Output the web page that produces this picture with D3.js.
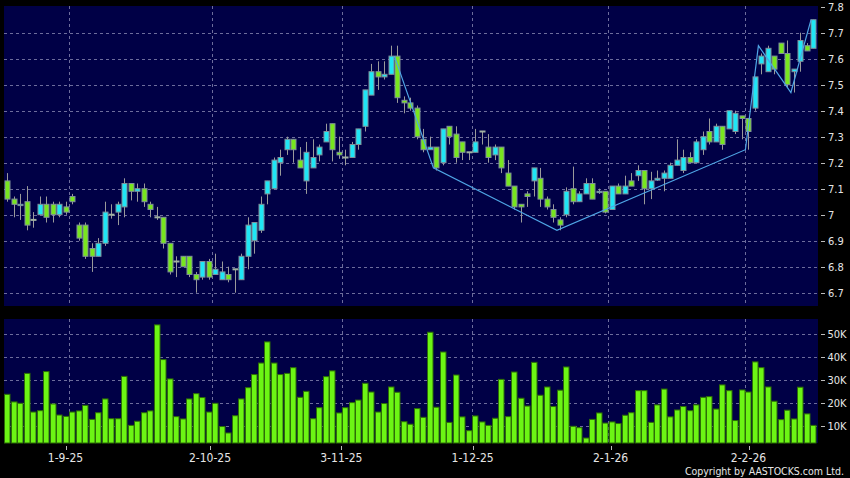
<!DOCTYPE html>
<html><head><meta charset="utf-8">
<script src="https://cdn.jsdelivr.net/npm/d3@7"></script>
<style>html,body{margin:0;padding:0;background:#000;}svg{display:block;}</style>
</head><body>
<svg id="chart" width="850" height="478"></svg>
<script>
// ---- data (trading-day index 0..124, 18 Aug 2025 .. 16 Feb 2026) ----
const open  = [7.13,7.06,7.035,7.05,6.98,7.00,7.04,7.04,7.00,7.03,7.07,6.96,6.96,6.87,6.84,6.89,7.00,7.01,7.03,7.12,7.09,7.10,7.04,6.99,6.99,6.89,6.82,6.84,6.84,6.77,6.76,6.82,6.77,6.75,6.77,6.79,6.75,6.84,6.90,6.94,7.08,7.10,7.20,7.25,7.29,7.21,7.13,7.18,7.23,7.28,7.35,7.24,7.22,7.22,7.27,7.34,7.46,7.55,7.53,7.54,7.61,7.44,7.43,7.41,7.29,7.25,7.26,7.20,7.34,7.31,7.28,7.24,7.24,7.32,7.26,7.23,7.26,7.16,7.11,7.04,7.08,7.13,7.14,7.06,7.02,6.98,7.00,7.10,7.05,7.08,7.12,7.085,7.09,7.02,7.11,7.08,7.13,7.15,7.17,7.10,7.133,7.14,7.14,7.19,7.17,7.22,7.20,7.25,7.32,7.28,7.34,7.33,7.32,7.38,7.37,7.41,7.58,7.55,7.61,7.66,7.62,7.55,7.59,7.65,7.64];
const high  = [7.16,7.07,7.08,7.11,7.01,7.07,7.07,7.05,7.05,7.05,7.08,6.97,6.97,6.89,6.91,7.05,7.04,7.05,7.14,7.12,7.12,7.12,7.05,7.03,6.99,6.89,6.84,6.84,6.84,6.78,6.82,6.83,6.85,6.82,6.80,6.79,6.85,6.99,6.97,7.07,7.13,7.22,7.25,7.30,7.29,7.26,7.28,7.29,7.27,7.35,7.35,7.30,7.25,7.28,7.33,7.48,7.58,7.59,7.59,7.65,7.65,7.455,7.45,7.42,7.33,7.30,7.26,7.33,7.34,7.34,7.28,7.24,7.33,7.32,7.31,7.27,7.26,7.21,7.11,7.04,7.09,7.18,7.18,7.07,7.04,6.99,7.105,7.185,7.09,7.14,7.14,7.10,7.09,7.11,7.12,7.15,7.16,7.19,7.17,7.165,7.17,7.17,7.20,7.29,7.25,7.24,7.29,7.32,7.37,7.35,7.34,7.40,7.40,7.38,7.37,7.53,7.62,7.65,7.61,7.66,7.67,7.56,7.70,7.66,7.75];
const low   = [7.05,6.99,6.98,6.94,6.95,7.00,6.97,6.97,6.99,7.00,7.04,6.90,6.83,6.78,6.84,6.88,6.985,6.96,6.99,7.055,7.05,7.03,6.99,6.98,6.87,6.77,6.76,6.80,6.76,6.70,6.75,6.75,6.77,6.75,6.74,6.70,6.75,6.79,6.85,6.93,7.04,7.10,7.15,7.23,7.20,7.18,7.08,7.18,7.205,7.28,7.205,7.215,7.19,7.22,7.25,7.32,7.46,7.48,7.52,7.54,7.43,7.39,7.40,7.29,7.24,7.25,7.17,7.19,7.27,7.20,7.21,7.21,7.24,7.27,7.20,7.21,7.16,7.11,7.02,6.97,7.03,7.07,7.03,7.02,6.97,6.94,6.99,7.04,7.05,7.08,7.06,7.08,7.005,7.02,7.08,7.08,7.11,7.13,7.04,7.06,7.13,7.09,7.14,7.19,7.16,7.20,7.20,7.23,7.27,7.28,7.25,7.33,7.31,7.29,7.25,7.40,7.54,7.55,7.54,7.62,7.49,7.47,7.55,7.63,7.64];
const close = [7.06,7.04,7.04,6.96,6.98,7.04,6.99,7.00,7.04,7.01,7.05,6.91,6.84,6.84,6.89,7.01,7.00,7.04,7.12,7.09,7.10,7.05,7.02,6.99,6.89,6.78,6.82,6.80,6.77,6.75,6.82,6.76,6.79,6.78,6.75,6.79,6.84,6.96,6.97,7.04,7.13,7.21,7.22,7.29,7.25,7.18,7.24,7.22,7.26,7.32,7.25,7.23,7.22,7.27,7.33,7.48,7.55,7.53,7.54,7.61,7.45,7.43,7.41,7.30,7.25,7.26,7.18,7.33,7.30,7.22,7.24,7.24,7.28,7.32,7.22,7.26,7.18,7.11,7.03,7.03,7.07,7.18,7.06,7.03,6.99,6.96,7.09,7.05,7.08,7.12,7.06,7.09,7.01,7.11,7.08,7.11,7.11,7.17,7.10,7.13,7.14,7.16,7.19,7.21,7.22,7.20,7.28,7.30,7.28,7.34,7.27,7.40,7.39,7.37,7.32,7.53,7.61,7.64,7.56,7.62,7.50,7.56,7.67,7.63,7.75];
const volume = [23.9,20.6,20.0,33.0,16.2,16.8,33.8,19.7,14.9,14.3,16.2,16.7,19.1,13.0,15.9,21.9,13.3,13.3,31.7,10.4,12.2,15.9,16.7,54.1,39.0,30.6,14.2,13.2,21.9,24.2,22.5,16.2,20.0,9.9,7.1,14.6,21.9,26.8,32.5,37.5,46.7,37.5,32.5,33.0,35.5,22.6,25.2,13.3,18.1,31.6,34.1,15.8,18.1,20.3,21.4,28.7,24.9,16.2,19.9,27.1,24.8,12.0,10.9,17.7,13.9,50.9,18.3,42.3,11.7,32.3,14.1,8.1,14.5,11.9,10.4,13.5,30.4,14.2,33.6,22.2,18.8,37.8,23.5,27.1,18.6,25.7,35.8,10.0,9.4,4.9,13.0,15.8,11.4,11.9,11.2,14.8,15.9,25.5,25.5,11.7,19.3,26.2,14.1,17.1,18.6,16.8,19.3,22.6,22.9,17.5,28.0,25.5,12.5,25.8,24.9,38.0,35.5,27.1,20.9,12.9,17.0,13.2,27.0,15.4,10.4].map(v => v * 1000);
const dateTickIndex = [10, 32, 52, 72, 93, 114];
const dateTickLabel = ["1-9-25", "2-10-25", "3-11-25", "1-12-25", "2-1-26", "2-2-26"];
const priceTicks = [6.7, 6.8, 6.9, 7.0, 7.1, 7.2, 7.3, 7.4, 7.5, 7.6, 7.7, 7.8];
const volumeTicks = [10000, 20000, 30000, 40000, 50000];
const zigzagIndex = [59.6, 65.6, 84.6, 113.6, 115.6, 120.6, 123.7];
const zigzagPrice = [7.61, 7.18, 6.94, 7.25, 7.65, 7.47, 7.75];

// ---- layout ----
const W = 850, H = 478;
const plotL = 4, plotR = 818;
const pTop = 6, pBot = 306;
const vTop = 319, vBot = 443;
const FONT = "'DejaVu Sans Condensed', 'DejaVu Sans', sans-serif";

const svg = d3.select("#chart");
svg.append("rect").attr("width", W).attr("height", H).attr("fill", "#000");

const idx = d3.range(open.length);
const x = d3.scaleBand().domain(idx).range([3.75, 3.75 + 6.5 * idx.length]).padding(0);
const cx = i => x(i) + x.bandwidth() / 2;
const xl = d3.scaleLinear().domain([0, idx.length - 1]).range([x(0) + x.bandwidth()/2, x(idx.length-1) + x.bandwidth()/2]);
const xLabel = d3.scaleLinear().domain([10, 114]).range([65.5, 748.5]);

const y = d3.scaleLinear().domain([6.7, 7.8]).range([292.7, 6.7]);
const yv = d3.scaleLinear().domain([0, 50000]).range([449.3, 334.3]);

const navy = "#000046";
const gridCol = "#6d6d9c";

// panels
svg.append("rect").attr("x", plotL).attr("y", pTop).attr("width", plotR - plotL).attr("height", pBot - pTop).attr("fill", navy);
svg.append("rect").attr("x", plotL).attr("y", vTop).attr("width", plotR - plotL).attr("height", vBot - vTop).attr("fill", navy);

// grids
const g = svg.append("g").attr("stroke", gridCol).attr("stroke-width", 1).attr("stroke-dasharray", "3,3").attr("fill", "none");
priceTicks.filter(p => p < 7.79).forEach(p => {
  g.append("line").attr("x1", plotL).attr("x2", plotR).attr("y1", Math.round(y(p)) + 0.5).attr("y2", Math.round(y(p)) + 0.5);
});
volumeTicks.forEach(v => {
  g.append("line").attr("x1", plotL).attr("x2", plotR).attr("y1", Math.round(yv(v)) + 0.5).attr("y2", Math.round(yv(v)) + 0.5);
});
dateTickIndex.forEach(i => {
  const xx = Math.round(x(i)) + 0.5;
  g.append("line").attr("x1", xx).attr("x2", xx).attr("y1", pTop).attr("y2", pBot);
  g.append("line").attr("x1", xx).attr("x2", xx).attr("y1", vTop).attr("y2", vBot);
});

// candles
const candles = svg.append("g");
const bw = 5;
idx.forEach(i => {
  const o = open[i], c = close[i], h = high[i], l = low[i];
  const up = c > o, flat = Math.abs(c - o) < 0.004;
  const xc = Math.round(cx(i)) + 0.5;
  candles.append("line").attr("x1", xc).attr("x2", xc).attr("y1", y(h)).attr("y2", y(l))
    .attr("stroke", "#9a9a9a").attr("stroke-width", 1);
  const top = y(Math.max(o, c)), bot = y(Math.min(o, c));
  if (flat) {
    candles.append("rect").attr("x", xc - bw / 2 - 0.5).attr("y", top - 1).attr("width", bw + 1).attr("height", Math.max(2, bot - top + 2))
      .attr("fill", up ? "#7fd6e6" : "#a0b0a0");
  } else {
    candles.append("rect").attr("x", xc - bw / 2).attr("y", top).attr("width", bw).attr("height", bot - top)
      .attr("fill", up ? "#1fe6f5" : "#78e61e").attr("stroke", "#7f8f9a").attr("stroke-width", 1);
  }
});

// zigzag
svg.append("path")
  .datum(zigzagIndex.map((v, k) => [v, zigzagPrice[k]]))
  .attr("d", d3.line().x(d => xl(d[0])).y(d => y(d[1])))
  .attr("fill", "none").attr("stroke", "#4fa6e6").attr("stroke-width", 1.2);

// volume bars
svg.append("g").selectAll("rect").data(idx).join("rect")
  .attr("x", i => Math.round(cx(i)) - 2.5)
  .attr("y", i => yv(volume[i]))
  .attr("width", 5.5)
  .attr("height", i => vBot - yv(volume[i]))
  .attr("fill", "#6cf514").attr("stroke", "#2d6e06").attr("stroke-width", 1);

// right axes
const axT = svg.append("g").attr("font-family", FONT).attr("font-size", 11).attr("fill", "#e6e6e6");
priceTicks.forEach(p => {
  svg.append("line").attr("x1", 821).attr("x2", 825).attr("y1", Math.round(y(p)) + 0.5).attr("y2", Math.round(y(p)) + 0.5).attr("stroke", "#bbb");
  axT.append("text").attr("x", 828).attr("y", y(p)).attr("dy", "0.36em").text(d3.format("")(p));
});
volumeTicks.forEach(v => {
  svg.append("line").attr("x1", 821).attr("x2", 825).attr("y1", Math.round(yv(v)) + 0.5).attr("y2", Math.round(yv(v)) + 0.5).attr("stroke", "#bbb");
  axT.append("text").attr("x", 827.5).attr("y", yv(v)).attr("dy", "0.36em").text((v / 1000) + "K");
});

// date axis
const dT = svg.append("g").attr("font-family", FONT).attr("font-size", 12).attr("fill", "#e6e6e6").attr("text-anchor", "middle");
dateTickIndex.forEach((i, k) => {
  const xx = Math.round(xLabel(i)) + 0.5;
  svg.append("line").attr("x1", xx).attr("x2", xx).attr("y1", 446).attr("y2", 450).attr("stroke", "#bbb");
  dT.append("text").attr("x", xLabel(i)).attr("y", 462).text(dateTickLabel[k]);
});

svg.append("text").attr("x", 844).attr("y", 475).attr("text-anchor", "end")
  .attr("font-family", FONT).attr("font-size", 10.5).attr("fill", "#e6e6e6")
  .text("Copyright by AASTOCKS.com Ltd.");
</script>
</body></html>
